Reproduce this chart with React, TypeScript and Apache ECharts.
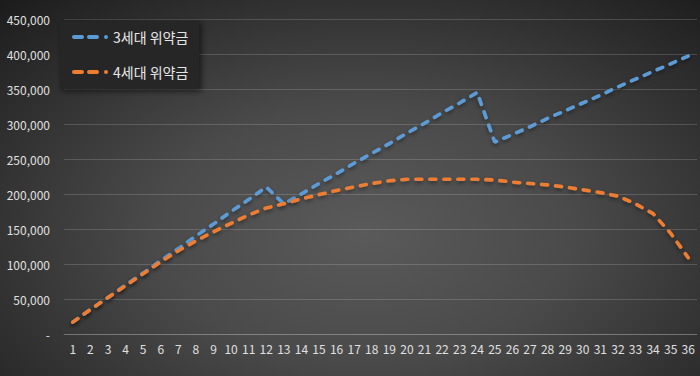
import React, { useEffect, useRef } from "react";
import * as echarts from "echarts";

const categories: string[] = Array.from({ length: 36 }, (_, i) => String(i + 1));
const gen3Name = "3세대 위약금";
const gen4Name = "4세대 위약금";
const gen3Values: number[] = [
  17000, 35000, 52000, 70000, 87000, 105000, 122000, 140000, 157000, 175000, 192000, 210000,
  186000, 200000, 215000, 229000, 244000, 258000, 272000, 287000, 301000, 316000, 330000, 345000,
  274000, 285000, 296000, 308000, 319000, 330000, 341000, 353000, 364000, 375000, 386000, 397000,
];
const gen4Values: number[] = [
  17000, 35000, 52000, 69000, 86000, 103000, 119000, 133000, 146000, 158000, 170000, 180000,
  186000, 193000, 199000, 205000, 210000, 215000, 219000, 221000, 221000, 221000, 221000, 221000,
  220000, 217000, 215000, 213000, 210000, 206000, 202000, 197000, 186000, 172000, 144000, 109000,
];

const FONT = "'Noto Sans CJK KR', 'Noto Sans', sans-serif";
const DASH_ICON =
  "path://M2,0 H10 A2,2 0 0 1 10,4 H2 A2,2 0 0 1 2,0 Z M17,0 H25 A2,2 0 0 1 25,4 H17 A2,2 0 0 1 17,0 Z M34,0 A2,2 0 0 1 34,4 A2,2 0 0 1 34,0 Z";

export default function App() {
  const ref = useRef<HTMLDivElement>(null);
  useEffect(() => {
    document.body.style.margin = "0";
    if (!ref.current) return;
    const chart = echarts.init(ref.current, null, { renderer: "svg" });
    const lineStyle = (color: string) => ({
      color,
      width: 3.6,
      type: [6, 8] as any,
      cap: "round" as any,
      shadowColor: "rgba(0,0,0,0.45)",
      shadowBlur: 4,
      shadowOffsetY: 2,
    });
    chart.setOption({
      animation: false,
      backgroundColor: "transparent",
      textStyle: { fontFamily: FONT },
      grid: { left: 64, right: 3, top: 19, bottom: 42, containLabel: false },
      legend: {
        orient: "vertical",
        left: 60,
        top: 21,
        padding: [7, 11, 8, 12],
        itemGap: 17,
        itemWidth: 36,
        itemHeight: 4,
        icon: DASH_ICON,
        backgroundColor: "#262626",
        shadowColor: "rgba(0,0,0,0.6)",
        shadowBlur: 6,
        shadowOffsetX: 2,
        shadowOffsetY: 2,
        textStyle: { color: "#e6e6e6", fontSize: 14, fontFamily: FONT, lineHeight: 18 },
        data: [gen3Name, gen4Name],
      },
      xAxis: {
        type: "category",
        data: categories,
        boundaryGap: true,
        axisLine: { show: true, lineStyle: { color: "rgba(255,255,255,0.18)" } },
        axisTick: { show: false },
        axisLabel: { color: "#e0e0e0", fontSize: 12, margin: 8, interval: 0, fontFamily: FONT },
      },
      yAxis: {
        type: "value",
        min: 0,
        max: 450000,
        interval: 50000,
        axisLine: { show: false },
        axisTick: { show: false },
        splitLine: { lineStyle: { color: "rgba(255,255,255,0.16)", width: 1 } },
        axisLabel: {
          color: "#e0e0e0",
          fontSize: 12,
          margin: 14,
          fontFamily: FONT,
          formatter: (v: number) => (v === 0 ? "-" : v.toLocaleString("en-US")),
        },
      },
      series: [
        {
          name: gen3Name,
          type: "line",
          data: gen3Values,
          symbol: "none",
          color: "#5b9bd5",
          lineStyle: lineStyle("#5b9bd5"),
          z: 2,
        },
        {
          name: gen4Name,
          type: "line",
          data: gen4Values,
          symbol: "none",
          color: "#ed7d31",
          lineStyle: lineStyle("#ed7d31"),
          z: 3,
        },
      ],
    });
    return () => chart.dispose();
  }, []);
  return (
    <div
      ref={ref}
      style={{
        width: 700,
        height: 376,
        background:
          "radial-gradient(ellipse 75% 85% at 52% 62%, #5a5a5a 0%, #4a4a4a 40%, #333 70%, #1c1c1c 100%)",
      }}
    />
  );
}
